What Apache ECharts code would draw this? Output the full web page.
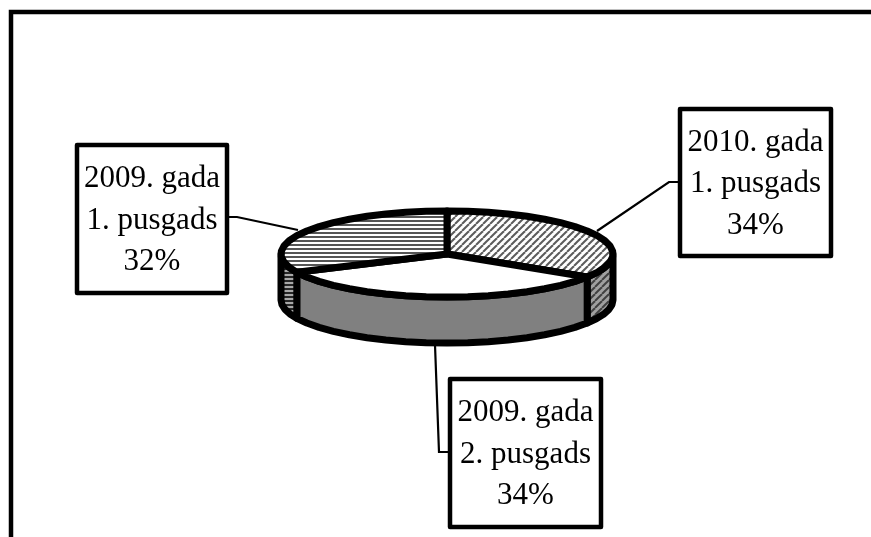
<!DOCTYPE html>
<html>
<head>
<meta charset="utf-8">
<style>html,body{margin:0;padding:0;background:#fff}#chart{width:871px;height:537px}</style>
<script src="https://cdn.jsdelivr.net/npm/echarts@6/dist/echarts.min.js"></script>
</head>
<body>
<div id="chart"></div>
<script>
// Half-year shares, clockwise from twelve o'clock
const periodYears = ['2010. gada', '2009. gada', '2009. gada'];
const periodHalves = ['1. pusgads', '2. pusgads', '1. pusgads'];
const shares = [34, 34, 32];

// Disc geometry in pixels
const disc = { cx: 447, cy: 254, rx: 166, ry: 43, depth: 46 };
const edge = 7;

// Callout box and leader line for each slice
const callouts = [
  { box: [680, 109, 151, 147], leader: [[680, 182], [669, 182], [597, 231]] },
  { box: [450, 379, 151, 148], leader: [[450, 452], [439, 452], [435, 345]] },
  { box: [77, 145, 150, 148], leader: [[227, 217], [237, 217], [298, 230]] }
];

function tile(w, h, bg, paint) {
  const c = document.createElement('canvas');
  c.width = w; c.height = h;
  const g = c.getContext('2d');
  g.fillStyle = bg;
  g.fillRect(0, 0, w, h);
  paint(g);
  return { image: c, repeat: 'repeat' };
}
function diagonal(bg, ink, width) {
  return tile(7, 7, bg, g => {
    g.strokeStyle = ink;
    g.lineWidth = width;
    [-7, 0, 7, 14].forEach(o => {
      g.beginPath();
      g.moveTo(o, 7);
      g.lineTo(o + 7, 0);
      g.stroke();
    });
  });
}
function horizontal(bg, ink) {
  return tile(4, 4, bg, g => {
    g.fillStyle = ink;
    g.fillRect(0, 0, 4, 2);
  });
}

const topFills = [diagonal('#ffffff', '#5c5c5c', 2), '#ffffff', horizontal('#ffffff', '#555555')];
const sideFills = [diagonal('#a0a0a0', '#404040', 2), '#808080', horizontal('#a8a8a8', '#262626')];

const total = shares.reduce((a, b) => a + b, 0);
function sliceAngles(i) {
  const before = shares.slice(0, i).reduce((a, b) => a + b, 0);
  return [before / total * 2 * Math.PI, (before + shares[i]) / total * 2 * Math.PI];
}
function rim(a, drop) {
  return [disc.cx + disc.rx * Math.sin(a), disc.cy - disc.ry * Math.cos(a) + (drop || 0)];
}
function arc(a0, a1, drop) {
  const n = Math.max(2, Math.ceil((a1 - a0) / (Math.PI / 24)));
  const pts = [];
  for (let k = 0; k <= n; k++) pts.push(rim(a0 + (a1 - a0) * k / n, drop));
  return pts;
}

const strokeStyle = { stroke: '#000', lineWidth: edge, lineJoin: 'round' };

function renderSide(params) {
  const [a0, a1] = sliceAngles(params.dataIndex);
  const lo = Math.max(a0, Math.PI / 2);
  const hi = Math.min(a1, 1.5 * Math.PI);
  if (hi <= lo) return { type: 'group', children: [] };
  const points = arc(lo, hi, 0).concat(arc(lo, hi, disc.depth).reverse());
  return {
    type: 'polygon', shape: { points },
    style: Object.assign({ fill: sideFills[params.dataIndex] }, strokeStyle)
  };
}
function renderTop(params) {
  const [a0, a1] = sliceAngles(params.dataIndex);
  const points = [[disc.cx, disc.cy]].concat(arc(a0, a1, 0));
  return {
    type: 'polygon', shape: { points },
    style: Object.assign({ fill: topFills[params.dataIndex] }, strokeStyle)
  };
}
function renderCallout(params, api) {
  const i = params.dataIndex;
  const c = callouts[i];
  const [x, y, w, h] = c.box;
  return {
    type: 'group',
    children: [
      { type: 'polyline', shape: { points: c.leader },
        style: { fill: 'none', stroke: '#000', lineWidth: 2.2 } },
      { type: 'rect', shape: { x, y, width: w, height: h },
        style: { fill: '#fff', stroke: '#000', lineWidth: 4.5, lineJoin: 'round' } },
      { type: 'text', x: x + w / 2, y: y + h / 2 + 1.5,
        style: {
          text: periodYears[i] + '\n' + periodHalves[i] + '\n' + api.value(0) + '%',
          fontFamily: 'Liberation Serif', fontSize: 31, lineHeight: 41.5,
          fill: '#000', align: 'center', verticalAlign: 'middle'
        } }
    ]
  };
}

const chart = echarts.init(document.getElementById('chart'), null, { renderer: 'canvas' });
chart.setOption({
  animation: false,
  backgroundColor: '#fff',
  graphic: [
    { type: 'polyline', silent: true,
      shape: { points: [[11, 537], [11, 12], [871, 12]] },
      style: { fill: 'none', stroke: '#000', lineWidth: 4.5, lineJoin: 'miter' } }
  ],
  series: [
    { type: 'custom', coordinateSystem: 'none', silent: true, z: 2, data: shares, renderItem: renderSide },
    { type: 'custom', coordinateSystem: 'none', silent: true, z: 3, data: shares, renderItem: renderTop },
    { type: 'custom', coordinateSystem: 'none', silent: true, z: 1, data: shares, renderItem: renderCallout }
  ]
});
</script>
</body>
</html>
